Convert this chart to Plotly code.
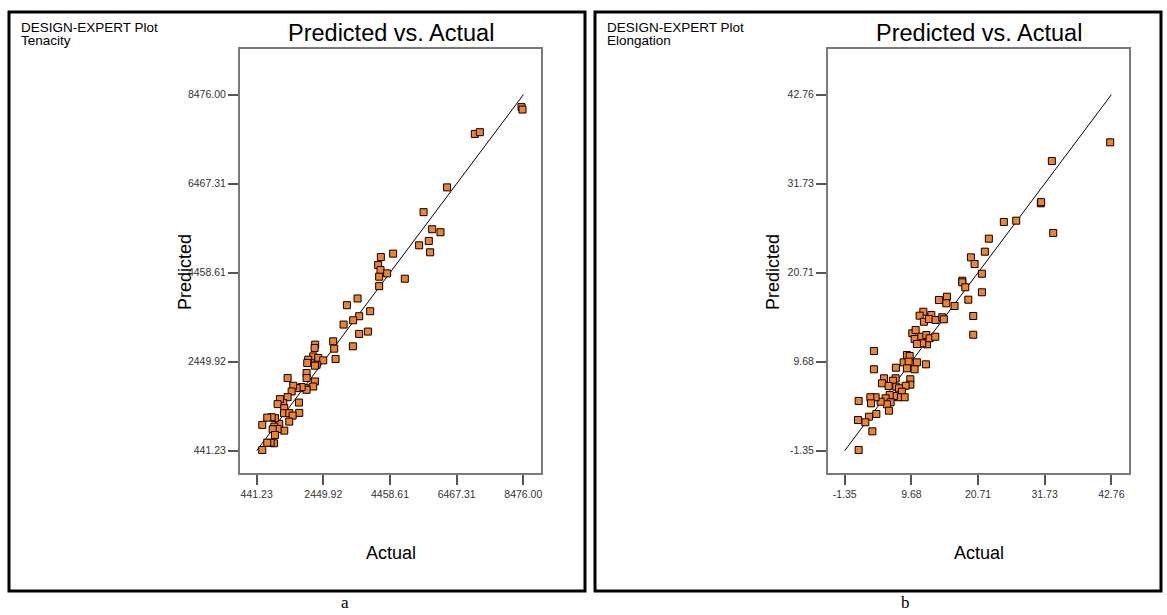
import plotly.graph_objects as go

W, H = 1167, 615

# ---------------- data ----------------
ten_ticks = [441.23, 2449.92, 4458.61, 6467.31, 8476.00]
ten_tick_text = ["441.23", "2449.92", "4458.61", "6467.31", "8476.00"]
ten_actual = [8421, 8451, 7015, 7166, 6178, 5470, 5729, 5980, 5628, 5336, 5667, 4553, 4183, 4102,
              4173, 4372, 4132, 4905, 4132, 3481, 3160, 3861, 3530, 3349, 3060, 3530, 3793, 3340,
              2747, 2777, 2819, 2205, 2187, 2145, 1995, 2296, 2446, 1965, 2248, 2196, 1946, 1946,
              2196, 2145, 1895, 1946, 1796, 1645, 1543, 1495, 1374, 1374, 1242, 1143, 1073, 1715,
              1724, 1272, 1263, 1423, 1525, 1423, 1272, 1121, 992, 893, 760, 610, 971, 1073, 923,
              992, 962, 862, 760, 610]
ten_pred = [8196, 8141, 7591, 7630, 6384, 5825, 5440, 5372, 5175, 5077, 4919, 4889, 4812, 4631,
            4518, 4443, 4368, 4323, 4155, 3877, 3725, 3589, 3476, 3385, 3288, 3077, 3130, 2797,
            2910, 2744, 2511, 2835, 2760, 2570, 2495, 2534, 2480, 2420, 2382, 2360, 2194, 2081,
            2004, 1890, 1854, 1816, 1877, 1854, 1907, 1777, 2081, 1650, 1515, 1605, 1492, 1528,
            1295, 1401, 1288, 1288, 1234, 1098, 894, 1046, 1175, 1197, 1188, 1023, 985, 932, 926,
            797, 609, 622, 622, 457]

elo_ticks = [-1.35, 9.68, 20.71, 31.73, 42.76]
elo_tick_text = ["-1.35", "9.68", "20.71", "31.73", "42.76"]
elo_actual = [42.57, 32.92, 31.10, 31.15, 33.15, 27.03, 24.98, 22.50, 21.84, 19.53, 20.14, 21.35,
              18.11, 18.11, 18.60, 21.35, 14.24, 15.56, 15.46, 16.83, 19.10, 19.92, 19.92, 11.66,
              11.05, 11.76, 12.98, 12.59, 13.69, 14.80, 15.06, 9.84, 10.39, 10.22, 11.33, 12.16,
              12.26, 11.49, 10.60, 12.70, 13.64, 3.49, 3.49, 8.95, 9.40, 8.40, 9.23, 10.60, 12.09,
              8.95, 10.22, 7.13, 9.51, 9.51, 8.73, 7.08, 6.63, 5.15, 4.82, 5.92, 7.19, 7.63, 8.12,
              8.57, 7.46, 6.80, 6.09, 5.43, 6.25, 5.64, 5.97, 4.60, 3.77, 2.90, 3.00, 0.96, 3.89,
              2.67, 2.07, 0.85, 3.23, 0.96]
elo_pred = [36.86, 34.54, 29.30, 29.45, 25.62, 27.15, 26.99, 24.92, 23.31, 22.61, 21.78, 20.58,
            19.71, 19.51, 18.90, 18.28, 17.32, 17.73, 16.91, 16.58, 17.36, 15.34, 13.02, 15.87,
            15.38, 14.63, 15.46, 14.97, 14.84, 15.18, 14.93, 13.20, 13.60, 12.49, 12.77, 12.98,
            11.83, 11.96, 11.87, 12.58, 12.77, 11.00, 8.74, 10.51, 10.38, 9.60, 9.68, 9.60, 9.35,
            8.86, 8.74, 8.93, 7.50, 6.83, 6.70, 7.62, 7.32, 7.62, 7.00, 6.67, 6.58, 6.38, 5.96,
            5.27, 5.27, 5.43, 5.55, 5.14, 4.65, 4.40, 3.61, 4.72, 5.27, 5.27, 4.52, 4.81, 3.20,
            2.86, 2.17, 2.45, 1.05, -1.26]

panels = [
    dict(ticks=ten_ticks, text=ten_tick_text, ax=ten_actual, pr=ten_pred, name="Tenacity",
         left=240, right=541, box=(9, 12, 585, 591), letter="a", letter_x=345),
    dict(ticks=elo_ticks, text=elo_tick_text, ax=elo_actual, pr=elo_pred, name="Elongation",
         left=828, right=1129, box=(595, 12, 1161, 591), letter="b", letter_x=905),
]

PLOT_TOP, PLOT_BOT = 49, 473
TICK_TOP_Y, TICK_BOT_Y = 94.7, 450.7
FONT = "Arial, Liberation Sans, sans-serif"
ORANGE = "#F5822A"


def px(x):
    return x / W


def py(y):
    return 1 - y / H


fig = go.Figure()
shapes = []
annotations = []
layout_axes = {}

for i, p in enumerate(panels):
    n = "" if i == 0 else str(i + 1)
    t = p["ticks"]
    step = t[1] - t[0]
    xr = [t[0] - 0.25 * step, t[-1] + 0.265 * step]
    per_px = (t[-1] - t[0]) / (TICK_BOT_Y - TICK_TOP_Y)
    yr = [t[0] - (PLOT_BOT - TICK_BOT_Y) * per_px, t[-1] + (TICK_TOP_Y - PLOT_TOP) * per_px]

    fig.add_trace(go.Scatter(x=[t[0], t[-1]], y=[t[0], t[-1]], mode="lines",
                             line=dict(color="black", width=1), xaxis="x" + n, yaxis="y" + n,
                             showlegend=False, hoverinfo="skip"))
    fig.add_trace(go.Scatter(x=p["ax"], y=p["pr"], mode="markers",
                             marker=dict(symbol="square", size=7, color=ORANGE,
                                         line=dict(color="black", width=1)),
                             xaxis="x" + n, yaxis="y" + n, showlegend=False))

    common = dict(showgrid=False, zeroline=False, showline=True, linecolor="#7a7a7a",
                  linewidth=2, mirror=True, ticks="outside", ticklen=10, tickwidth=1.5,
                  tickcolor="#555555", tickmode="array", tickvals=t, ticktext=p["text"],
                  tickfont=dict(family=FONT, size=10.5, color="#333333"))
    layout_axes["xaxis" + n] = dict(common, range=xr,
                                    domain=[px(p["left"]), px(p["right"])],
                                    anchor="y" + n)
    layout_axes["yaxis" + n] = dict(common, range=yr,
                                    domain=[py(PLOT_BOT), py(PLOT_TOP)],
                                    anchor="x" + n)

    x0, y0, x1, y1 = p["box"]
    shapes.append(dict(type="rect", xref="paper", yref="paper", x0=px(x0), x1=px(x1),
                       y0=py(y0), y1=py(y1), line=dict(color="black", width=3)))

    cx = (p["left"] + p["right"]) / 2
    annotations += [
        dict(text="DESIGN-EXPERT Plot", x=px(x0 + 10), y=py(27), xanchor="left", yanchor="middle",
             font=dict(family=FONT, size=13.5, color="black")),
        dict(text=p["name"], x=px(x0 + 10), y=py(41), xanchor="left", yanchor="middle",
             font=dict(family=FONT, size=13.5, color="black")),
        dict(text="Predicted vs. Actual", x=px(cx), y=py(33), xanchor="center", yanchor="middle",
             font=dict(family=FONT, size=23.5, color="black")),
        dict(text="Actual", x=px(cx), y=py(553), xanchor="center", yanchor="middle",
             font=dict(family=FONT, size=18, color="black")),
        dict(text="Predicted", x=px(p["left"] - 55), y=py(272),
             xanchor="center", yanchor="middle", textangle=-90,
             font=dict(family=FONT, size=18, color="black")),
        dict(text=p["letter"], x=px(p["letter_x"]), y=py(602), xanchor="center",
             yanchor="middle", font=dict(family="Times New Roman, Liberation Serif, serif",
                                         size=17, color="black")),
    ]

for a in annotations:
    a.update(xref="paper", yref="paper", showarrow=False)

fig.update_layout(width=W, height=H, margin=dict(l=0, r=0, t=0, b=0),
                  paper_bgcolor="white", plot_bgcolor="white", hovermode=False,
                  shapes=shapes, annotations=annotations, **layout_axes)

# remove the default 8px body margin so the figure fills the window exactly
fig.write_html("out.html", config={"displayModeBar": False},
               post_script="document.body.style.margin='0';"
                           "document.body.style.overflow='hidden';")
